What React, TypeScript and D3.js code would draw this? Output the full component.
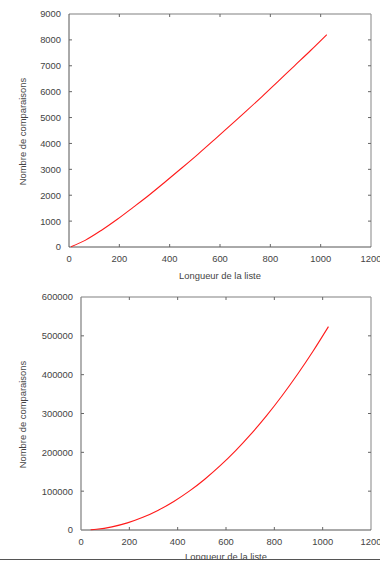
import React, { useEffect, useRef } from 'react';
import * as d3 from 'd3';

const width = 380;
const height = 561;

// list length values for the two curves
const listLengths1 = [8, 64, 128, 192, 256, 320, 384, 448, 512, 576, 640, 704, 768, 832, 896, 960, 1024];
const comparisons1 = [8, 256, 640, 1070, 1540, 2020, 2530, 3050, 3580, 4130, 4690, 5250, 5820, 6410, 7000, 7590, 8200];

const listLengths2 = [40, 64, 128, 192, 256, 320, 384, 448, 512, 576, 640, 704, 768, 832, 896, 960, 1024];
const comparisons2 = [780, 2000, 8100, 18300, 32600, 51000, 73500, 100000, 130800, 165600, 204500, 247500, 294500, 345700, 401000, 460300, 523800];

const xTicks = [0, 200, 400, 600, 800, 1000, 1200];
const yTicks1 = [0, 1000, 2000, 3000, 4000, 5000, 6000, 7000, 8000, 9000];
const yTicks2 = [0, 100000, 200000, 300000, 400000, 500000, 600000];

const xTitle = 'Longueur de la liste';
const yTitle = 'Nombre de comparaisons';

const font = '"Liberation Sans", Arial, sans-serif';
const fontSize = '9.4px';

function drawPanel(svg, box, xs, ys, yTicks, leftColor, leftWidth, titleGap) {
  const x = d3.scaleLinear().domain([0, 1200]).range([box.left, box.right]);
  const y = d3.scaleLinear().domain([0, yTicks[yTicks.length - 1]]).range([box.bottom, box.top]);
  const g = svg.append('g');

  // frame
  g.append('line').attr('x1', box.left).attr('x2', box.right).attr('y1', box.top).attr('y2', box.top)
    .attr('stroke', '#aaa').attr('stroke-width', 1.6);
  g.append('line').attr('x1', box.right).attr('x2', box.right).attr('y1', box.top).attr('y2', box.bottom)
    .attr('stroke', '#999').attr('stroke-width', 1.2);
  g.append('line').attr('x1', box.left).attr('x2', box.right).attr('y1', box.bottom).attr('y2', box.bottom)
    .attr('stroke', '#555').attr('stroke-width', 1);
  g.append('line').attr('x1', box.left).attr('x2', box.left).attr('y1', box.top).attr('y2', box.bottom)
    .attr('stroke', leftColor).attr('stroke-width', leftWidth);

  // inward ticks
  const inner = xTicks.slice(1, -1);
  g.selectAll('xt').data(inner).enter().append('path')
    .attr('d', (d) => `M${x(d)},${box.bottom}v-3M${x(d)},${box.top}v3`)
    .attr('stroke', '#666').attr('stroke-width', 1);
  g.selectAll('yt').data(yTicks.slice(1, -1)).enter().append('path')
    .attr('d', (d) => `M${box.left},${y(d)}h3M${box.right},${y(d)}h-3`)
    .attr('stroke', '#666').attr('stroke-width', 1);

  // tick labels
  g.selectAll('xl').data(xTicks).enter().append('text')
    .attr('x', (d) => x(d)).attr('y', box.bottom + 14.5)
    .attr('text-anchor', 'middle')
    .style('font-family', font).style('font-size', fontSize).attr('fill', '#444')
    .text((d) => String(d));
  g.selectAll('yl').data(yTicks).enter().append('text')
    .attr('x', box.left - 8).attr('y', (d) => y(d) + 3.4)
    .attr('text-anchor', 'end')
    .style('font-family', font).style('font-size', fontSize).attr('fill', '#444')
    .text((d) => String(d));

  // axis titles
  g.append('text')
    .attr('x', (box.left + box.right) / 2).attr('y', box.bottom + titleGap)
    .attr('text-anchor', 'middle')
    .style('font-family', font).style('font-size', fontSize).attr('fill', '#444')
    .text(xTitle);
  g.append('text')
    .attr('transform', `translate(25.5,${(box.top + box.bottom) / 2 + 1}) rotate(-90)`)
    .attr('text-anchor', 'middle')
    .style('font-family', font).style('font-size', fontSize).attr('fill', '#444')
    .text(yTitle);

  // curve
  const pts = xs.map((n, i) => [n, ys[i]]);
  const line = d3.line().x((d) => x(d[0])).y((d) => y(d[1])).curve(d3.curveMonotoneX);
  g.append('path').datum(pts).attr('d', line)
    .attr('fill', 'none').attr('stroke', '#ff1a1a').attr('stroke-width', 1.1);
}

export default function App() {
  const ref = useRef(null);

  useEffect(() => {
    const svg = d3.select(ref.current);
    svg.selectAll('*').remove();
    svg.append('rect').attr('width', width).attr('height', height).attr('fill', '#fff');

    drawPanel(svg, { left: 69, right: 371, top: 14, bottom: 247 }, listLengths1, comparisons1, yTicks1, '#555', 1, 31.5);
    drawPanel(svg, { left: 81, right: 371, top: 297, bottom: 530 }, listLengths2, comparisons2, yTicks2, '#888', 1.3, 30);

    // bottom edge cuts off the last title
    svg.append('rect').attr('x', 0).attr('y', 559.5).attr('width', width).attr('height', 2).attr('fill', '#fff');
    svg.append('line').attr('x1', 0).attr('x2', width).attr('y1', 559.5).attr('y2', 559.5)
      .attr('stroke', '#555').attr('stroke-width', 1);
  }, []);

  return (
    <svg ref={ref} width={width} height={height}
      style={{ position: 'absolute', left: 0, top: 0, display: 'block' }} />
  );
}
